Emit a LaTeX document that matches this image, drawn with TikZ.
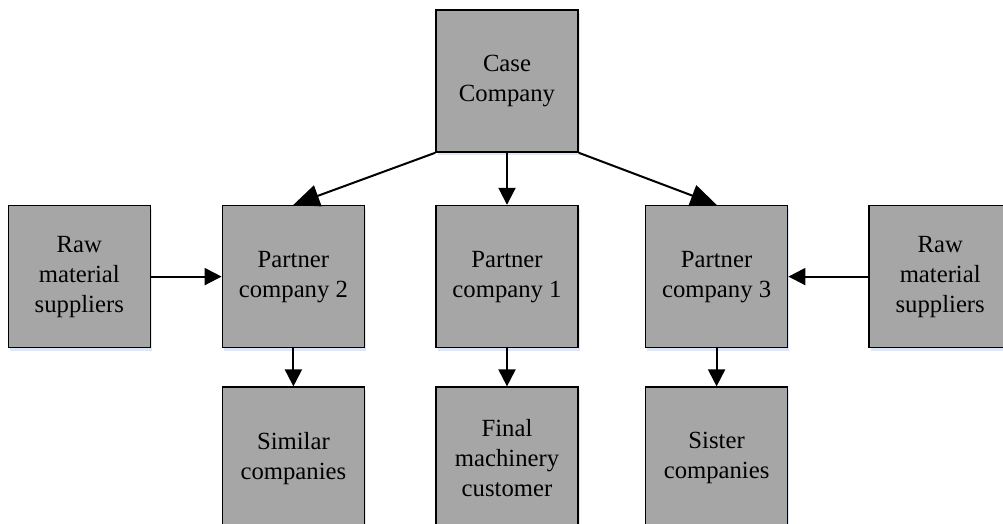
\documentclass[tikz,border=0pt]{standalone}
\usepackage{fontspec}
\setmainfont{Liberation Serif}
\usepackage{xcolor}
\usepackage{tikz}
\usetikzlibrary{
    arrows.meta,
    positioning,
    shadows
}
\definecolor{boxgray}{HTML}{A6A6A6}
\definecolor{shadowblue}{HTML}{C9D6EE}
\tikzset{
    box/.style={
        rectangle,
        draw=black,
        line width=1.6pt,
        fill=boxgray,
        align=center,
        minimum width=142pt,
        minimum height=142pt,
        inner sep=2pt,
        font=\fontsize{24.7}{30}\selectfont,
        drop shadow={shadow xshift=1.5pt, shadow yshift=-3pt, fill=shadowblue, opacity=0.6}
    },
    arrow/.style={
        -{Triangle[length=17pt, width=17pt]},
        line width=2pt
    },
    bigarrow/.style={
        -{Triangle[length=26pt, width=22pt]},
        line width=2pt
    }
}

\begin{document}
\begin{tikzpicture}[x=1pt, y=1pt]

\useasboundingbox (0,0) rectangle (1003,524);

\node[box] (case) at (507,443) {Case\\Company};
\node[box, below=52pt of case] (p1) {Partner\\company 1};
\node[box, left=70pt of p1] (p2) {Partner\\company 2};
\node[box, right=66pt of p1] (p3) {Partner\\company 3};
\node[box, left=70.5pt of p2] (rawl) {Raw\\material\\suppliers};
\node[box, right=80pt of p3] (rawr) {Raw\\material\\suppliers};

\node[box, below=38pt of p2] (similar) {Similar\\companies};
\node[box, below=38pt of p1] (final) {Final\\machinery\\customer};
\node[box, below=38pt of p3] (sister) {Sister\\companies};

\draw[bigarrow] (case.south west) -- (p2.north);
\draw[arrow] (case) -- (p1);
\draw[bigarrow] (case.south east) -- (p3.north);

\draw[arrow] (rawl) -- (p2);
\draw[arrow] (rawr) -- (p3);

\draw[arrow] (p2) -- (similar);
\draw[arrow] (p1) -- (final);
\draw[arrow] (p3) -- (sister);

\end{tikzpicture}
\end{document}
